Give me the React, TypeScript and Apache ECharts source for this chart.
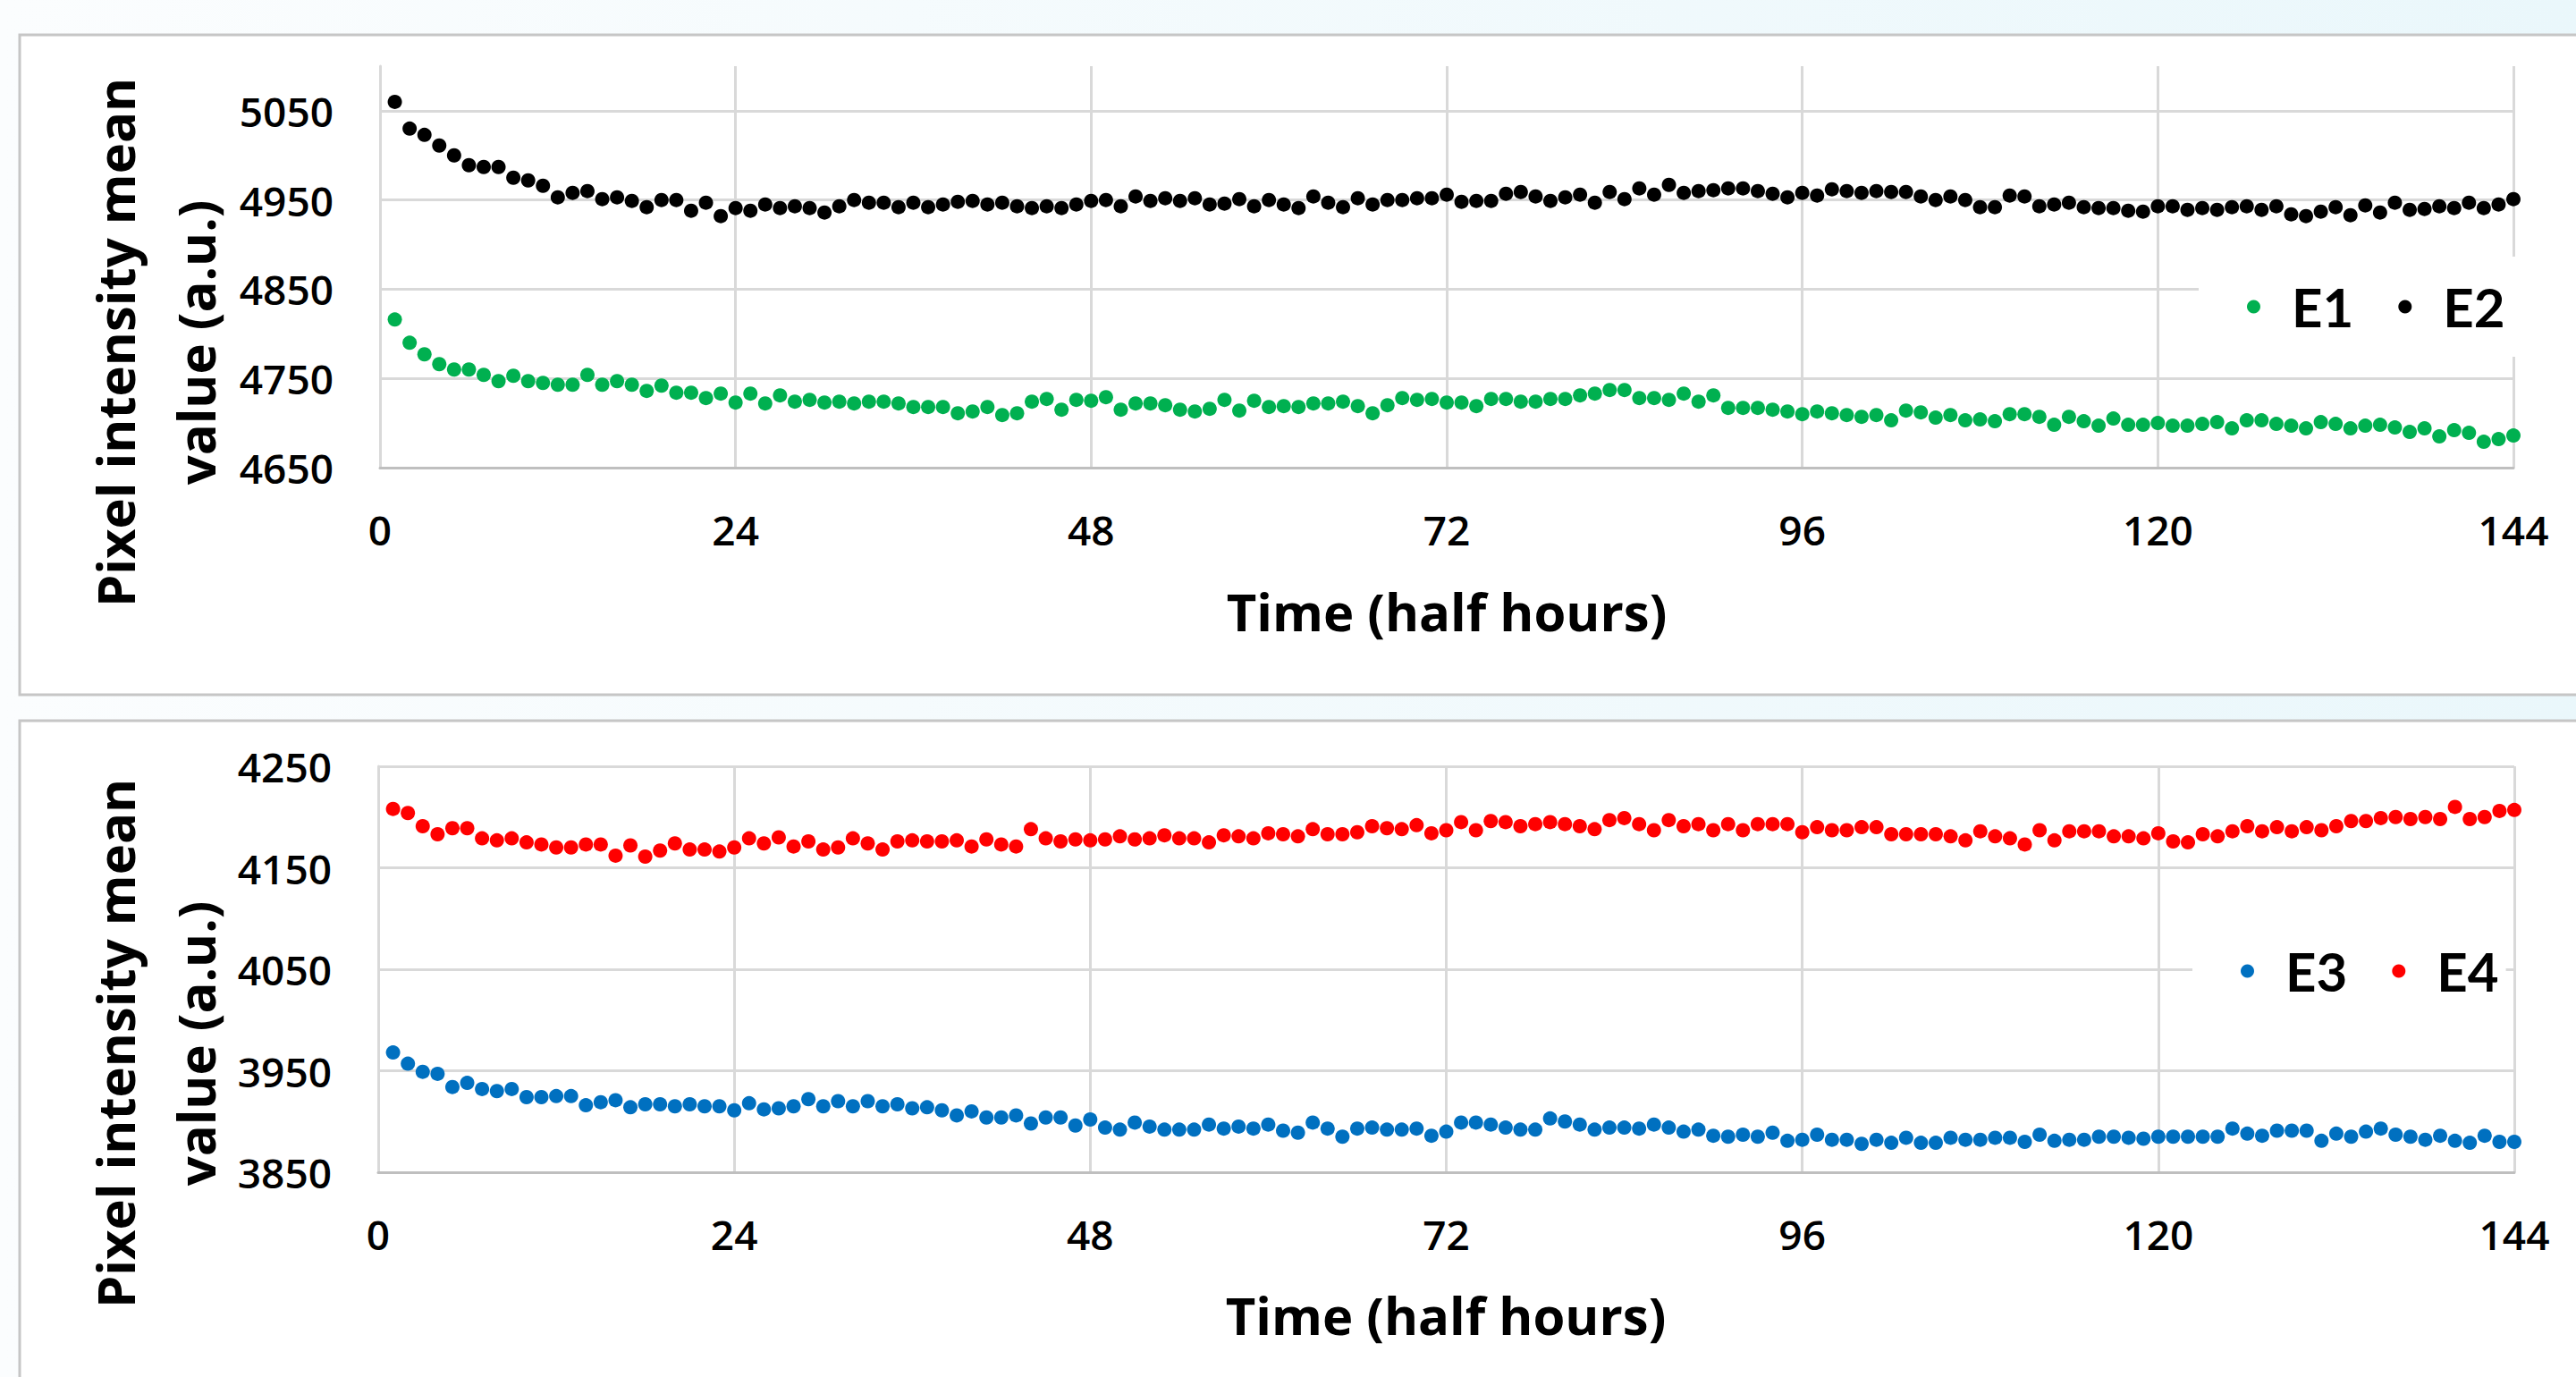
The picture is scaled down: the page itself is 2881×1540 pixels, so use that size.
import React, { useEffect, useRef } from 'react';
import * as echarts from 'echarts';

// ---- Data (x = 1..144 half hours) ----
const E1 = [
  4816, 4790, 4777, 4766, 4760, 4760, 4754, 4747, 4753, 4747, 4745, 4743, 4743, 4754, 4743, 4747, 4743, 4736, 4742, 4734, 4734, 4728, 4733, 4723,
  4733, 4722, 4731, 4724, 4726, 4723, 4724, 4722, 4724, 4724, 4722, 4718, 4718, 4718, 4711, 4713, 4718, 4709, 4711, 4724, 4727, 4715, 4726, 4725,
  4729, 4715, 4722, 4722, 4720, 4715, 4713, 4716, 4726, 4714, 4725, 4718, 4719, 4718, 4722, 4722, 4724, 4719, 4711, 4720, 4728, 4726, 4727, 4723,
  4723, 4719, 4727, 4727, 4724, 4724, 4727, 4727, 4731, 4733, 4737, 4737, 4728, 4728, 4726, 4733, 4724, 4731, 4717, 4717, 4717, 4715, 4713, 4710,
  4713, 4711, 4709, 4707, 4709, 4703, 4714, 4712, 4706, 4709, 4703, 4704, 4702, 4710, 4710, 4707, 4698, 4707, 4702, 4697, 4705, 4698, 4698, 4700,
  4697, 4697, 4699, 4701, 4694, 4703, 4703, 4699, 4697, 4694, 4701, 4699, 4694, 4697, 4698, 4695, 4690, 4694, 4685, 4692, 4689, 4679, 4682, 4686,
];
const E2 = [
  5060, 5030, 5023, 5011, 5000, 4989, 4987, 4987, 4975, 4972, 4966, 4953, 4958, 4960, 4951, 4953, 4949, 4942, 4950, 4950, 4938, 4947, 4932, 4941,
  4938, 4945, 4941, 4943, 4941, 4936, 4943, 4950, 4947, 4947, 4942, 4947, 4942, 4945, 4948, 4949, 4945, 4947, 4943, 4941, 4943, 4941, 4945, 4949,
  4950, 4943, 4954, 4949, 4952, 4949, 4952, 4945, 4946, 4951, 4943, 4950, 4945, 4941, 4954, 4947, 4942, 4952, 4945, 4950, 4950, 4952, 4952, 4956,
  4948, 4949, 4949, 4957, 4959, 4954, 4949, 4953, 4956, 4947, 4959, 4951, 4963, 4956, 4967, 4958, 4960, 4961, 4963, 4963, 4960, 4957, 4953, 4958,
  4955, 4962, 4960, 4958, 4960, 4959, 4959, 4954, 4950, 4954, 4950, 4942, 4942, 4955, 4954, 4943, 4945, 4947, 4942, 4941, 4941, 4938, 4937, 4943,
  4943, 4939, 4941, 4939, 4942, 4943, 4939, 4943, 4934, 4932, 4937, 4942, 4933, 4944, 4936, 4947, 4939, 4940, 4943, 4941, 4947, 4941, 4945, 4951,
];
const E3 = [
  3968, 3957, 3949, 3947, 3934, 3938, 3932, 3930, 3932, 3924, 3924, 3925, 3925, 3916, 3919, 3921, 3914, 3917, 3917, 3915, 3917, 3915, 3915, 3911,
  3918, 3912, 3913, 3915, 3922, 3915, 3920, 3915, 3920, 3915, 3917, 3913, 3914, 3911, 3906, 3910, 3904, 3904, 3906, 3898, 3904, 3904, 3896, 3902,
  3894, 3892, 3899, 3895, 3892, 3892, 3892, 3897, 3893, 3895, 3893, 3897, 3891, 3889, 3899, 3893, 3885, 3893, 3894, 3892, 3892, 3893, 3886, 3890,
  3899, 3899, 3897, 3894, 3892, 3892, 3903, 3900, 3897, 3892, 3894, 3894, 3893, 3897, 3894, 3890, 3892, 3886, 3885, 3887, 3885, 3889, 3881, 3882,
  3887, 3882, 3882, 3878, 3882, 3879, 3884, 3879, 3879, 3884, 3882, 3882, 3884, 3884, 3880, 3887, 3881, 3882, 3882, 3885, 3885, 3884, 3883, 3885,
  3885, 3885, 3885, 3885, 3893, 3888, 3886, 3891, 3891, 3891, 3881, 3888, 3885, 3890, 3893, 3887, 3885, 3882, 3886, 3881, 3879, 3886, 3880, 3880,
];
const E4 = [
  4208, 4204, 4191, 4183, 4189, 4189, 4179, 4177, 4179, 4175, 4173, 4170, 4170, 4173, 4173, 4162, 4172, 4161, 4167, 4174, 4168, 4168, 4166, 4170,
  4179, 4174, 4180, 4171, 4176, 4168, 4170, 4179, 4174, 4168, 4176, 4177, 4176, 4176, 4177, 4171, 4178, 4173, 4171, 4188, 4179, 4176, 4178, 4177,
  4178, 4181, 4178, 4179, 4182, 4179, 4179, 4175, 4182, 4181, 4179, 4184, 4183, 4181, 4188, 4183, 4183, 4185, 4191, 4189, 4188, 4192, 4184, 4187,
  4195, 4187, 4196, 4195, 4191, 4193, 4195, 4193, 4191, 4188, 4197, 4199, 4193, 4187, 4197, 4191, 4193, 4187, 4193, 4187, 4193, 4193, 4193, 4185,
  4190, 4187, 4187, 4190, 4190, 4183, 4183, 4183, 4183, 4181, 4177, 4186, 4181, 4179, 4173, 4187, 4177, 4186, 4186, 4186, 4181, 4181, 4179, 4184,
  4176, 4175, 4183, 4181, 4186, 4191, 4186, 4190, 4186, 4190, 4187, 4191, 4196, 4196, 4199, 4200, 4198, 4200, 4198, 4210, 4198, 4200, 4206, 4207,
];

const X_TICKS = [0, 24, 48, 72, 96, 120, 144];
const TOP_Y_LABELS = [4650, 4750, 4850, 4950, 5050];
const BOTTOM_Y_LABELS = [3850, 3950, 4050, 4150, 4250];
const X_TITLE = 'Time (half hours)';
const Y_TITLE = 'Pixel intensity mean\nvalue (a.u.)';

const toPoints = (vals: number[]) => vals.map((v, i) => [i + 1, v]);

const TICK_FONT = '"Open Sans", "Liberation Sans", sans-serif';
const TITLE_FONT = '"Open Sans", "Noto Sans", sans-serif';
const LEGEND_FONT = 'Lato, "Open Sans", sans-serif';

const GRID_COLOR = '#d9d9d9';
const AXIS_COLOR = '#bfbfbf';

function makeXAxis(gridIndex: number) {
  return {
    gridIndex,
    type: 'value',
    min: X_TICKS[0],
    max: X_TICKS[X_TICKS.length - 1],
    interval: X_TICKS[1] - X_TICKS[0],
    axisLine: { show: true, onZero: false, lineStyle: { color: AXIS_COLOR, width: 3 } },
    axisTick: { show: false },
    axisLabel: { fontSize: 46, fontWeight: 600, color: '#000', margin: 46, fontFamily: TICK_FONT },
    splitLine: { show: true, lineStyle: { color: GRID_COLOR, width: 3 } },
  };
}

function makeYAxis(gridIndex: number, labels: number[], max: number) {
  const min = labels[0];
  const shown = new Set(labels);
  return {
    gridIndex,
    type: 'value',
    min,
    max,
    interval: 50,
    axisLine: { show: true, lineStyle: { color: GRID_COLOR, width: 3 } },
    axisTick: { show: false },
    axisLabel: {
      fontSize: 46,
      fontWeight: 600,
      color: '#000',
      margin: 52,
      fontFamily: TICK_FONT,
      formatter: (v: number) => (shown.has(v) ? String(v) : ''),
    },
    splitLine: {
      show: true,
      showMaxLine: max === labels[labels.length - 1],
      lineStyle: { color: [GRID_COLOR, 'rgba(0,0,0,0)'], width: 3 },
    },
  };
}

function legendOpt(names: string[], left: number, top: number, padRight: number) {
  return {
    data: names,
    left,
    top,
    orient: 'horizontal',
    icon: 'circle',
    itemWidth: 15,
    itemHeight: 15,
    itemGap: 50,
    backgroundColor: '#ffffff',
    padding: [26, padRight, 26, 54],
    textStyle: {
      fontSize: 60,
      fontWeight: 'bold',
      fontFamily: LEGEND_FONT,
      color: '#000',
      lineHeight: 60,
      padding: [0, 0, 0, 30],
    },
  };
}

function scatter(name: string, vals: number[], color: string, idx: number) {
  return {
    name,
    type: 'scatter',
    xAxisIndex: idx,
    yAxisIndex: idx,
    data: toPoints(vals),
    symbol: 'circle',
    symbolSize: 16,
    itemStyle: { color, opacity: 1 },
  };
}

function titleText(text: string, x: number, y: number, rotation = 0) {
  return {
    type: 'text',
    x,
    y,
    rotation,
    z: 10,
    style: {
      text,
      fill: '#000',
      fontSize: 58,
      fontWeight: 'bold',
      fontFamily: TITLE_FONT,
      align: 'center',
      verticalAlign: 'middle',
      lineHeight: 90,
    },
  };
}

export default function App() {
  const ref = useRef<HTMLDivElement>(null);
  useEffect(() => {
    if (!ref.current) return;
    const chart = echarts.init(ref.current, null, { renderer: 'svg' });
    const option = {
      animation: false,
      backgroundColor: 'transparent',
      graphic: [
        {
          type: 'rect',
          z: -10,
          shape: { x: 22, y: 39, width: 2900, height: 738 },
          style: { fill: '#ffffff', stroke: '#c6c6c6', lineWidth: 3 },
        },
        {
          type: 'rect',
          z: -10,
          shape: { x: 22, y: 806, width: 2900, height: 800 },
          style: { fill: '#ffffff', stroke: '#c6c6c6', lineWidth: 3 },
        },
        titleText(X_TITLE, 1618, 683),
        titleText(X_TITLE, 1617, 1470),
        titleText(Y_TITLE, 173, 383, Math.PI / 2),
        titleText(Y_TITLE, 173, 1167, Math.PI / 2),
      ],
      grid: [
        { left: 425, top: 74, width: 2386, height: 449 },
        { left: 423, top: 857, width: 2389, height: 454 },
      ],
      xAxis: [makeXAxis(0), makeXAxis(1)],
      yAxis: [makeYAxis(0, TOP_Y_LABELS, 5100), makeYAxis(1, BOTTOM_Y_LABELS, 4250)],
      legend: [legendOpt(['E1', 'E2'], 2459, 287, 30), legendOpt(['E3', 'E4'], 2452, 1030, 8)],
      series: [
        scatter('E1', E1, '#00b050', 0),
        scatter('E2', E2, '#000000', 0),
        scatter('E3', E3, '#0070c0', 1),
        scatter('E4', E4, '#ff0000', 1),
      ],
    };
    chart.setOption(option as any);
    return () => chart.dispose();
  }, []);
  return (
    <div
      style={{
        position: 'fixed',
        left: 0,
        top: 0,
        width: 2881,
        height: 1540,
        background: 'linear-gradient(to right, #fbfdfe, #eaf7fb)',
        overflow: 'hidden',
      }}
    >
      <div ref={ref} style={{ width: 2881, height: 1540 }} />
    </div>
  );
}
